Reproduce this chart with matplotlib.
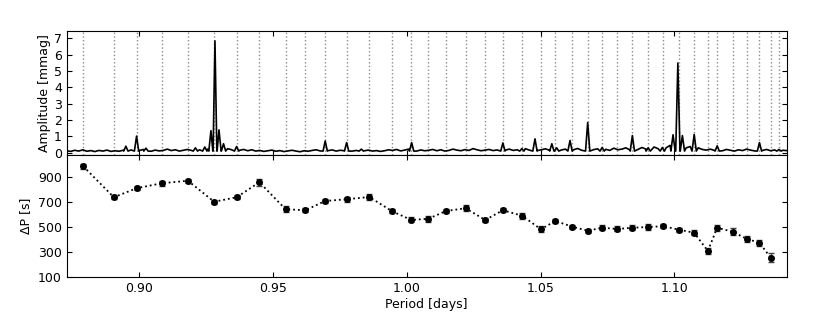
import matplotlib
matplotlib.use("Agg")
from matplotlib import pyplot as plt
import numpy as np

# periods of the detected modes (days), drawn as dotted lines in the top panel
periods = [0.8791, 0.8905, 0.8990, 0.9084, 0.9182, 0.9280, 0.9364, 0.9449,
           0.9547, 0.9621, 0.9695, 0.9775, 0.9860, 0.9945, 1.0017, 1.0080,
           1.0147, 1.0220, 1.0293, 1.0359, 1.0431, 1.0501, 1.0555, 1.0619,
           1.0676, 1.0730, 1.0787, 1.0843, 1.0902, 1.0959, 1.1018, 1.1074,
           1.1125, 1.1160, 1.1218, 1.1271, 1.1318, 1.1360, 1.1391]

# period spacing (s) at each mode, with errors
dp = [985, 738, 810, 850, 870, 702, 738, 858, 642, 634, 708, 722, 740, 626,
      556, 566, 628, 650, 556, 634, 590, 482, 548, 502, 470, 494, 484, 494,
      500, 506, 478, 454, 308, 494, 462, 404, 374, 254]
dp_err = [20, 15, 15, 20, 15, 15, 18, 28, 25, 18, 15, 20, 25, 15,
          20, 25, 18, 22, 18, 18, 25, 25, 15, 15, 15, 20, 20, 20,
          22, 15, 15, 22, 25, 25, 28, 25, 25, 35]

# amplitude spectrum: noise floor on a regular period grid
noise_amp = [0.12, 0.08, 0.15, 0.10, 0.18, 0.09, 0.13, 0.07, 0.14, 0.10, 0.16, 0.08, 0.12, 0.09, 0.15,
             0.11, 0.17, 0.10, 0.13, 0.20, 0.12, 0.09, 0.16, 0.11, 0.14, 0.22, 0.13, 0.18, 0.10, 0.15,
             0.20, 0.14, 0.25, 0.18, 0.30, 0.22, 0.35, 0.28, 0.40, 0.30, 0.25, 0.18, 0.22, 0.15, 0.20,
             0.12, 0.18, 0.10, 0.14, 0.08, 0.12, 0.16, 0.09, 0.13, 0.07, 0.11, 0.15, 0.10, 0.06, 0.12,
             0.09, 0.14, 0.18, 0.11, 0.08, 0.13, 0.17, 0.10, 0.15, 0.12, 0.07, 0.10, 0.14, 0.09, 0.12,
             0.16, 0.10, 0.13, 0.08, 0.12, 0.18, 0.14, 0.20, 0.11, 0.16, 0.22, 0.13, 0.10, 0.17, 0.12,
             0.15, 0.20, 0.12, 0.18, 0.10, 0.14, 0.22, 0.16, 0.12, 0.19, 0.14, 0.25, 0.18, 0.12, 0.16,
             0.20, 0.13, 0.17, 0.11, 0.15, 0.22, 0.14, 0.18, 0.12, 0.25, 0.16, 0.20, 0.13, 0.18, 0.24,
             0.15, 0.19, 0.12, 0.17, 0.22, 0.14, 0.18, 0.26, 0.15, 0.20, 0.13, 0.19, 0.24, 0.16, 0.21,
             0.14, 0.28, 0.18, 0.22, 0.30, 0.17, 0.25, 0.20, 0.32, 0.22, 0.28, 0.35, 0.25, 0.40, 0.30,
             0.45, 0.35, 0.50, 0.40, 0.30, 0.38, 0.25, 0.30, 0.20, 0.16, 0.22, 0.14, 0.18, 0.12, 0.20,
             0.15, 0.10, 0.18, 0.13, 0.22, 0.16, 0.11, 0.19, 0.14, 0.20, 0.12, 0.17, 0.22, 0.15, 0.13]

# spectrum peaks
peak_period = [0.8950, 0.8990, 0.9025, 0.9210, 0.9245, 0.9268, 0.9283, 0.9298,
               0.9315, 0.9364, 0.9695, 0.9775, 0.9830, 1.0018, 1.0359, 1.0430,
               1.0479, 1.0542, 1.0560, 1.0610, 1.0676, 1.0730, 1.0843, 1.0902,
               1.0955, 1.0995, 1.1013, 1.1030, 1.1074, 1.1160, 1.1318, 1.1391]
peak_amp = [0.40, 1.02, 0.28, 0.30, 0.35, 1.35, 6.85, 1.40,
            0.55, 0.38, 0.72, 0.62, 0.22, 0.62, 0.60, 0.25,
            0.85, 0.55, 0.30, 0.75, 1.85, 0.32, 1.05, 0.30,
            0.32, 1.10, 5.50, 1.05, 1.12, 0.42, 0.62, 0.20]

xmin, xmax = 0.8729, 1.1420

# build the spectrum trace: noise grid plus narrow spikes
noise_p = np.linspace(xmin, xmax, len(noise_amp))
w = 0.0008
keep = np.ones(len(noise_p), bool)
for p in peak_period:
    keep &= np.abs(noise_p - p) > w
sp = list(noise_p[keep])
sa = list(np.array(noise_amp)[keep])
for p, a in zip(peak_period, peak_amp):
    sp += [p - w, p, p + w]
    sa += [0.1, a, 0.1]
order = np.argsort(sp)
sp = np.array(sp)[order]
sa = np.array(sa)[order]

plt.rcParams["font.size"] = 9
plt.rcParams["xtick.direction"] = "in"
plt.rcParams["ytick.direction"] = "in"
plt.rcParams["xtick.top"] = True
plt.rcParams["ytick.right"] = True
plt.rcParams["xtick.major.size"] = 3.5
plt.rcParams["ytick.major.size"] = 3.5

fig = plt.figure(figsize=(8.3, 3.12), dpi=100)
ax1 = fig.add_axes([0.0804, 0.5032, 0.8675, 0.397])
ax2 = fig.add_axes([0.0804, 0.1122, 0.8675, 0.391], sharex=ax1)

for p in periods:
    ax1.axvline(p, color="0.55", ls=":", lw=1.0, zorder=1)
ax1.plot(sp, sa, color="k", lw=1.2, zorder=2)
ax1.set_ylim(-0.14, 7.45)
ax1.set_yticks(range(0, 8))
ax1.set_ylabel("Amplitude [mmag]", labelpad=2)
plt.setp(ax1.get_xticklabels(), visible=False)

ax2.errorbar(periods[:-1], dp, yerr=dp_err, fmt="o", color="k", ms=4,
             ecolor="0.25", elinewidth=1, capsize=2, zorder=3)
ax2.plot(periods[:-1], dp, "k:", lw=1.3, zorder=2)
ax2.set_ylim(100, 1076)
ax2.set_yticks([100, 300, 500, 700, 900])
ax2.set_xlim(xmin, xmax)
ax2.set_xticks([0.90, 0.95, 1.00, 1.05, 1.10])
ax2.set_xlabel("Period [days]", labelpad=2)
ax2.set_ylabel("\u0394P [s]", labelpad=4)

plt.savefig("out.png", dpi=100)
